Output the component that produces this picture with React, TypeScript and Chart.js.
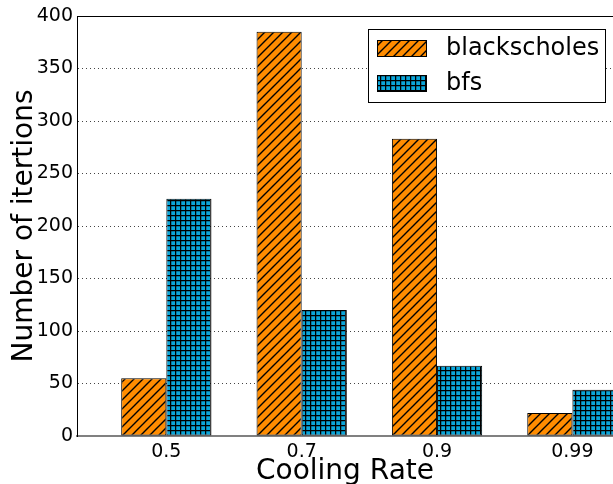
import React, { useEffect, useRef } from 'react';
import { Chart, registerables } from 'chart.js';

Chart.register(...registerables);

const categories = ['0.5', '0.7', '0.9', '0.99'];
const blackscholes = [55, 385, 283, 22];
const bfs = [226, 120, 67, 44];
const seriesNames = ['blackscholes', 'bfs'];
const seriesColors = ['#FF8C00', '#0BA6DA'];
const yMin = 0;
const yMax = 400;
const yStep = 50;
const xTitle = 'Cooling Rate';
const yTitle = 'Number of itertions';

function makeHatch(kind: 'diag' | 'grid', color: string): CanvasPattern | string {
  const c = document.createElement('canvas');
  const size = kind === 'diag' ? 9 : 5;
  c.width = size;
  c.height = size;
  const g = c.getContext('2d');
  if (!g) return color;
  g.fillStyle = color;
  g.fillRect(0, 0, size, size);
  g.strokeStyle = '#000';
  g.lineWidth = 1.4;
  if (kind === 'diag') {
    g.beginPath();
    g.moveTo(-1, size + 1);
    g.lineTo(size + 1, -1);
    g.moveTo(-2, 2);
    g.lineTo(2, -2);
    g.moveTo(size - 2, size + 2);
    g.lineTo(size + 2, size - 2);
    g.stroke();
  } else {
    g.fillStyle = '#000';
    g.fillRect(0, 0, size, 1);
    g.fillRect(0, 0, 1, size);
    g.fillStyle = 'rgba(0,0,0,0.25)';
    g.fillRect(0, 1, size, 1);
    g.fillRect(1, 0, 1, size);
  }
  const p = g.createPattern(c, 'repeat');
  return p || color;
}

export default function App() {
  const ref = useRef<HTMLCanvasElement>(null);

  useEffect(() => {
    const canvas = ref.current;
    if (!canvas) return;
    Chart.defaults.font.family = '"DejaVu Sans", sans-serif';
    const fills = [makeHatch('diag', seriesColors[0]), makeHatch('grid', seriesColors[1])];
    const seriesValues = [blackscholes, bfs];

    const topBorder = {
      id: 'topBorder',
      afterDraw(chart: any) {
        const { ctx, chartArea } = chart;
        ctx.save();
        ctx.strokeStyle = '#000';
        ctx.lineWidth = 1;
        ctx.beginPath();
        ctx.moveTo(chartArea.left, Math.round(chartArea.top) + 0.5);
        ctx.lineTo(chartArea.right, Math.round(chartArea.top) + 0.5);
        ctx.stroke();
        ctx.restore();
      },
    };

    const boxLegend = {
      id: 'boxLegend',
      afterDraw(chart: any) {
        const { ctx, chartArea } = chart;
        const boxW = 237;
        const boxH = 73;
        const x0 = Math.round(chartArea.right - 8 - boxW);
        const y0 = Math.round(chartArea.top + 13);
        ctx.save();
        ctx.fillStyle = '#fff';
        ctx.fillRect(x0, y0, boxW, boxH);
        ctx.strokeStyle = '#000';
        ctx.lineWidth = 1;
        ctx.strokeRect(x0 + 0.5, y0 + 0.5, boxW, boxH);
        chart.data.datasets.forEach((ds: any, i: number) => {
          const sy = y0 + 11 + i * 35;
          ctx.fillStyle = ds.backgroundColor;
          ctx.fillRect(x0 + 9, sy, 50, 17);
          ctx.strokeStyle = '#000';
          ctx.strokeRect(x0 + 9.5, sy + 0.5, 49, 16);
          ctx.fillStyle = '#000';
          ctx.font = '24px "DejaVu Sans", sans-serif';
          ctx.textBaseline = 'middle';
          ctx.textAlign = 'left';
          ctx.fillText(ds.label, x0 + 78, sy + 9);
        });
        ctx.restore();
      },
    };

    const chart = new Chart(canvas, {
      type: 'bar',
      data: {
        datasets: seriesNames.map((name, si) => ({
          label: name,
          data: categories.map((_, i) => ({ x: i, y: seriesValues[si][i] })),
          backgroundColor: fills[si] as any,
          borderColor: '#000',
          borderWidth: 1,
          borderSkipped: false,
          categoryPercentage: 0.667,
          barPercentage: 1.0,
        })),
      },
      options: {
        responsive: false,
        animation: false,
        devicePixelRatio: 1,
        layout: { padding: { left: 0, right: 0, top: 16, bottom: 0 } },
        plugins: {
          legend: { display: false },
          tooltip: { enabled: false },
        },
        scales: {
          x: {
            type: 'linear',
            min: -0.66,
            max: 3.3,
            offset: false,
            grid: { display: false, drawTicks: false },
            border: { display: true, color: '#808080', width: 2 },
            afterBuildTicks: (s: any) => {
              s.ticks = categories.map((_, i) => ({ value: i }));
            },
            ticks: {
              callback: (v: any) => categories[v as number] ?? '',
              font: { size: 19 },
              color: '#000',
              padding: 5,
              maxRotation: 0,
              autoSkip: false,
            },
            title: {
              display: true,
              text: xTitle,
              font: { size: 28, lineHeight: 0.9 },
              color: '#000',
              padding: { top: 0, bottom: 0 },
            },
            afterFit: (s: any) => {
              s.height = 48;
            },
          },
          y: {
            min: yMin,
            max: yMax,
            ticks: {
              stepSize: yStep,
              font: { size: 19 },
              color: '#000',
              padding: 4,
            },
            grid: { color: '#444', lineWidth: 1, drawTicks: false },
            border: { display: true, color: '#000', width: 1, dash: [1, 3] },
            title: {
              display: true,
              text: yTitle,
              font: { size: 28 },
              color: '#000',
              padding: { top: 8, bottom: 0 },
            },
            afterFit: (s: any) => {
              s.width = 77;
            },
          },
        },
      } as any,
      plugins: [topBorder, boxLegend],
    });

    return () => chart.destroy();
  }, []);

  return (
    <div style={{ position: 'absolute', left: 0, top: 0, width: 613, height: 484 }}>
      <canvas ref={ref} width={613} height={484} style={{ display: 'block' }} />
    </div>
  );
}
